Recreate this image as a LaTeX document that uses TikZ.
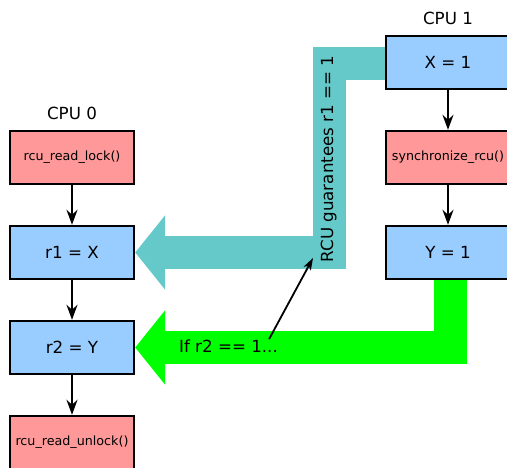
\documentclass[tikz,border=0pt]{standalone}
\usepackage{fontspec}
\setmainfont{DejaVu Sans}
\usetikzlibrary{arrows.meta}

\begin{document}
\begin{tikzpicture}[x=1pt, y=-1pt,
  op/.style={draw=black, line width=2.4pt, minimum width=124pt, minimum height=53pt,
    inner sep=0pt, font=\fontsize{16.7}{20}\selectfont},
  access/.style={op, fill=col_access},
  rcucall/.style={op, fill=col_rcucall, font=\fontsize{12.7}{15}\selectfont},
  cpu/.style={font=\fontsize{16.7}{20}\selectfont},
  flow/.style={line width=2pt, -{Stealth[length=15pt, width=11pt, inset=5pt]}},
  band/.style={line width=33pt, line join=miter, -{Triangle[length=30pt, width=73pt]}},
]
%
\definecolor{col_access}{rgb}{0.6,0.8,1.0}
\definecolor{col_rcucall}{rgb}{1.0,0.6,0.6}
\definecolor{col_guarantee}{rgb}{0.4,0.79,0.79}
\definecolor{col_ifread}{rgb}{0.0,1.0,0.0}
%
\useasboundingbox (0,0) rectangle (507,468);
%
% CPU 0
\node[cpu] (cpu0) at (72,113) {CPU 0};
\node[rcucall] (lock) at (72,157.5) {rcu\_read\_lock()};
\node[access] (r1) at (72,252.5) {r1 = X};
\node[access] (r2) at (72,347.5) {r2 = Y};
\node[rcucall] (unlock) at (72,442.5) {rcu\_read\_unlock()};
%
% CPU 1
\node[cpu] (cpu1) at (448,18) {CPU 1};
\node[access] (x1) at (448,62.5) {X = 1};
\node[rcucall] (sync) at (448,157.5) {synchronize\_rcu()};
\node[access] (y1) at (448,252.5) {Y = 1};
%
\draw[flow] (lock) -- (r1);
\draw[flow] (r1) -- (r2);
\draw[flow] (r2) -- (unlock);
\draw[flow] (x1) -- (sync);
\draw[flow] (sync) -- (y1);
%
% guarantees between the CPUs
\coordinate (rcu turn) at (329,252.5);
\draw[band, col_guarantee] ([yshift=-1pt]x1.west) -| (rcu turn) -- (r1.east);
\node[cpu, rotate=90, anchor=base] (guarantee) at (333,159) {RCU guarantees r1 == 1};
%
\draw[band, col_ifread] ([xshift=2pt]y1.south) |- (r2.east);
\node[cpu, anchor=base, inner sep=1pt] (ifread) at (228.5,353) {If r2 == 1...};
%
\coordinate (guarantee start) at (313,258);
\draw[line width=1.8pt, -{Stealth[length=12pt, width=8pt, inset=3pt]}]
  ([xshift=-10pt]ifread.north east) -- (guarantee start);
%
\end{tikzpicture}
\end{document}
